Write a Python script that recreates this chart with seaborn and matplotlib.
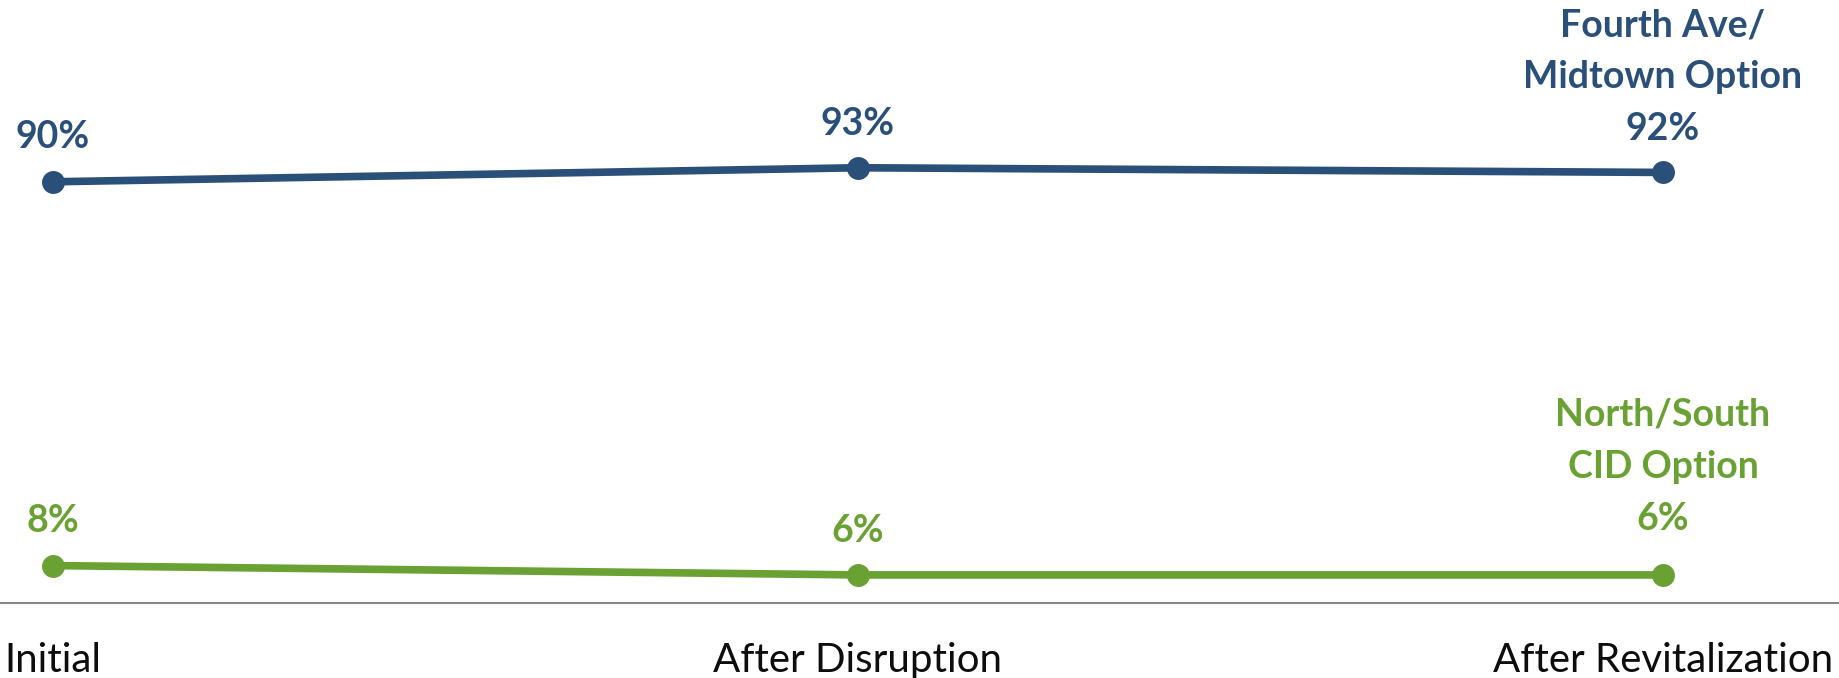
import matplotlib
matplotlib.use("Agg")
import matplotlib.pyplot as plt
import seaborn as sns
import pandas as pd

# ---- data ----
categories = ["Initial", "After Disruption", "After Revitalization"]
fourth_ave = [90, 93, 92]
north_south = [8, 6, 6]
series_names = ["Fourth Ave/\nMidtown Option", "North/South\nCID Option"]

BLUE = "#2A5079"
GREEN = "#6AA133"

sns.set_theme(style="white")
plt.rcParams["font.family"] = ["Lato", "DejaVu Sans"]

df = pd.DataFrame({
    "stage": categories * 2,
    "share": fourth_ave + north_south,
    "series": [series_names[0]] * 3 + [series_names[1]] * 3,
})

fig = plt.figure(figsize=(18.39, 6.78), dpi=100)
ax = fig.add_axes([0, 0.1106, 1, 0.6903])

sns.lineplot(data=df, x="stage", y="share", hue="series",
             palette=[BLUE, GREEN], marker="o", markersize=16.5,
             markeredgewidth=0, linewidth=5.5, sort=False, legend=False, ax=ax)

ax.set_xlim(-0.0658, 2.2186)
ax.set_ylim(0, 100)
ax.set_xlabel("")
ax.set_ylabel("")
ax.set_yticks([])
for s in ["top", "left", "right"]:
    ax.spines[s].set_visible(False)
ax.spines["bottom"].set_color("#878787")
ax.spines["bottom"].set_linewidth(1.5)
ax.tick_params(axis="x", length=0, pad=28, labelsize=29, labelcolor="#0d0d0d")

def lab(x, y, txt, color, dy):
    ax.annotate(txt, (x, y), xytext=(0, dy), textcoords="offset pixels",
                ha="center", va="baseline", fontsize=27, fontweight="bold",
                color=color, annotation_clip=False)

# blue labels
lab(0, fourth_ave[0], f"{fourth_ave[0]}%", BLUE, 34)
lab(1, fourth_ave[1], f"{fourth_ave[1]}%", BLUE, 33)
lab(2, fourth_ave[2], f"{fourth_ave[2]}%", BLUE, 32)
blue_lines = series_names[0].split("\n")
lab(2, fourth_ave[2], blue_lines[1], BLUE, 32 + 52)
lab(2, fourth_ave[2], blue_lines[0], BLUE, 32 + 104)

# green labels
lab(0, north_south[0], f"{north_south[0]}%", GREEN, 34)
lab(1, north_south[1], f"{north_south[1]}%", GREEN, 33)
lab(2, north_south[2], f"{north_south[2]}%", GREEN, 45)
green_lines = series_names[1].split("\n")
lab(2, north_south[2], green_lines[1], GREEN, 45 + 52)
lab(2, north_south[2], green_lines[0], GREEN, 45 + 104)

fig.savefig("out.png", dpi=100)
